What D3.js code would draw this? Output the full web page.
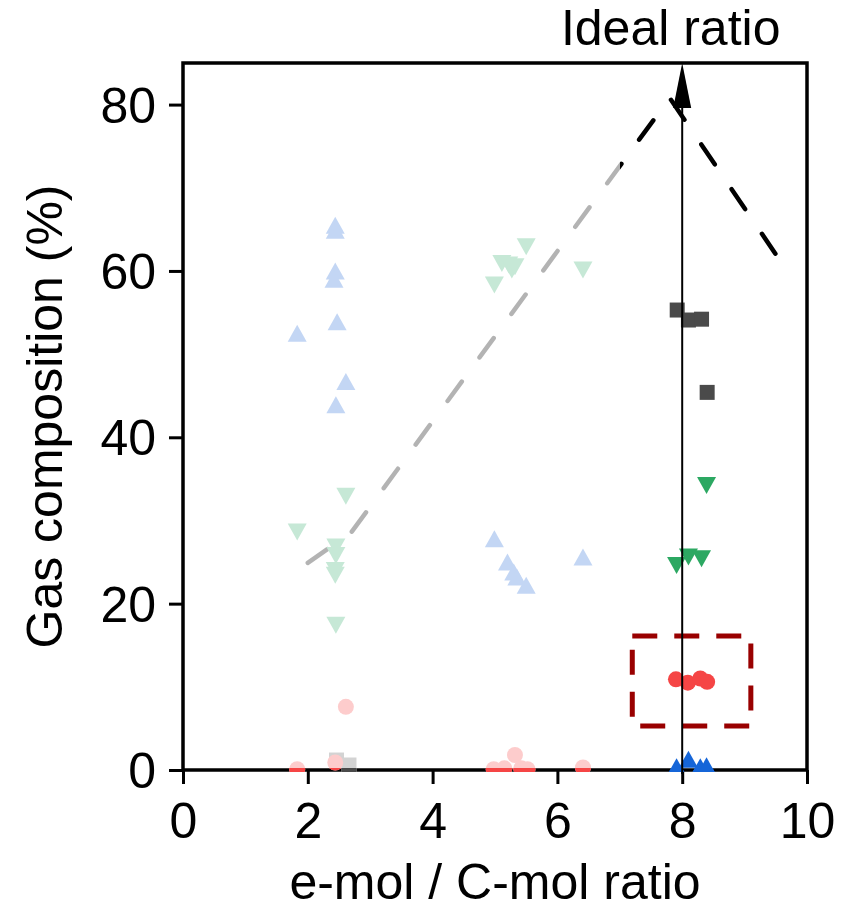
<!DOCTYPE html>
<html>
<head>
<meta charset="utf-8">
<script src="https://cdn.jsdelivr.net/npm/d3@7/dist/d3.min.js"></script>
<style>
  html, body { margin: 0; padding: 0; background: #fff; }
  svg text { font-family: "Liberation Sans", Arial, sans-serif; fill: #000; }
</style>
</head>
<body>
<svg id="chart" width="843" height="910"></svg>
<script>
// ticks
const xTicks = [0, 2, 4, 6, 8, 10];
const yTicks = [0, 20, 40, 60, 80];

// literature points (pale markers), [ratio, %]
const upLit = [[1.83, 52.5], [2.44, 65.5], [2.44, 64.9], [2.44, 60.0], [2.42, 59.0], [2.47, 53.9],
  [2.61, 46.7], [2.45, 43.9], [4.99, 27.8], [5.20, 25.0], [5.30, 23.8], [5.35, 23.2], [5.50, 22.2], [6.41, 25.6]];
const downLit = [[1.83, 28.6], [2.61, 32.9], [2.45, 26.8], [2.45, 25.8], [2.44, 24.0], [2.44, 23.4], [2.45, 17.4],
  [4.99, 58.3], [5.11, 60.9], [5.22, 60.7], [5.27, 60.1], [5.32, 60.5], [5.50, 62.9], [6.41, 60.1]];
const squareLit = [[2.46, 1.2], [2.66, 0.6]];
const circleLit = [[1.83, 0.1], [2.44, 0.9], [2.61, 7.6], [4.98, 0.1], [5.15, 0.2], [5.32, 1.8],
  [5.42, 0.2], [5.52, 0.1], [6.41, 0.3]];

// this work, around the ideal ratio
const upNew = [[7.91, 0.4], [8.10, 1.3], [8.29, 0.4], [8.39, 0.5]];
const downNew = [[7.91, 24.6], [8.10, 25.6], [8.31, 25.4], [8.39, 34.2]];
const squareNew = [[7.92, 55.3], [8.10, 54.1], [8.31, 54.2], [8.40, 45.4]];
const circleNew = [[7.90, 10.9], [8.09, 10.5], [8.29, 11.0], [8.40, 10.6]];

// guide line (grey part then black part) and annotations
const trendLine = [[2.0, 24.9], [2.7, 28.6], [7.8, 80.8], [9.5, 62.0]];
const trendBreak = 7.0;
const idealRatio = 8;
const boxX = [7.2, 9.1];
const boxY = [5.3, 16.1];

const margin = { top: 63, right: 36, bottom: 140, left: 183 };
const W = 843 - margin.left - margin.right;
const H = 910 - margin.top - margin.bottom;

const x = d3.scaleLinear().domain([0, 10]).range([0, W]);
const y = d3.scaleLinear().domain([0, 85]).range([H, 0]);

const svg = d3.select('#chart');
const defs = svg.append('defs');
defs.append('clipPath').attr('id', 'plotClip')
  .append('rect').attr('x', -20).attr('y', -20).attr('width', W + 40).attr('height', H + 22);
defs.append('clipPath').attr('id', 'spineClip')
  .append('rect').attr('x', 0).attr('y', H - 2).attr('width', W).attr('height', 4);

const g = svg.append('g').attr('transform', `translate(${margin.left},${margin.top})`);

// axes
const fs = 50;
const xAxis = g.append('g').attr('transform', `translate(0,${H})`)
  .call(d3.axisBottom(x).tickValues(xTicks).tickSize(14).tickPadding(18).tickFormat(d3.format('d')));
const yAxis = g.append('g')
  .call(d3.axisLeft(y).tickValues(yTicks).tickSize(14).tickPadding(13).tickFormat(d3.format('d')));
[xAxis, yAxis].forEach(a => {
  a.select('.domain').remove();
  a.selectAll('line').attr('stroke', '#000').attr('stroke-width', 3);
  a.selectAll('text').attr('font-size', fs).attr('font-family', '"Liberation Sans", Arial, sans-serif').attr('fill', '#000');
});
yAxis.selectAll('text').attr('dy', '0.35em');

// frame
g.append('rect').attr('width', W).attr('height', H)
  .attr('fill', 'none').attr('stroke', '#000').attr('stroke-width', 3.5);

// guide line with colour change at trendBreak
const grad = defs.append('linearGradient').attr('id', 'trendGrad')
  .attr('gradientUnits', 'userSpaceOnUse')
  .attr('x1', 0).attr('x2', W).attr('y1', 0).attr('y2', 0);
const f = trendBreak / 10;
grad.append('stop').attr('offset', f).attr('stop-color', '#b3b3b3');
grad.append('stop').attr('offset', f).attr('stop-color', '#000');

g.append('path').datum(trendLine)
  .attr('d', d3.line().x(d => x(d[0])).y(d => y(d[1])))
  .attr('fill', 'none').attr('stroke', 'url(#trendGrad)').attr('stroke-width', 4.5)
  .attr('stroke-linecap', 'round').attr('stroke-dasharray', '24,30');

// marker shapes
const tw = 19, th = 17, sq = 15, r = 8;
const shapes = {
  up: `M0,${-th / 2}L${tw / 2},${th / 2}L${-tw / 2},${th / 2}Z`,
  down: `M0,${th / 2}L${tw / 2},${-th / 2}L${-tw / 2},${-th / 2}Z`,
  square: `M${-sq / 2},${-sq / 2}h${sq}v${sq}h${-sq}Z`,
  circle: `M${-r},0a${r},${r} 0 1,0 ${2 * r},0a${r},${r} 0 1,0 ${-2 * r},0Z`
};

const series = [
  { data: upLit, shape: 'up', fill: '#c3d6f4', full: '#1565d8' },
  { data: downLit, shape: 'down', fill: '#c6e8d6', full: '#2ca862' },
  { data: squareLit, shape: 'square', fill: '#d3d3d3', full: '#4a4a4a' },
  { data: circleLit, shape: 'circle', fill: '#fdcccc', full: '#f54545' },
  { data: upNew, shape: 'up', fill: '#1565d8', full: '#1565d8' },
  { data: downNew, shape: 'down', fill: '#2ca862', full: '#2ca862' },
  { data: squareNew, shape: 'square', fill: '#4a4a4a', full: '#4a4a4a' },
  { data: circleNew, shape: 'circle', fill: '#f54545', full: '#f54545' }
];

const pts = g.append('g').attr('clip-path', 'url(#plotClip)');
const onSpine = g.append('g').attr('clip-path', 'url(#spineClip)');
series.forEach(s => {
  pts.selectAll(null).data(s.data).enter().append('path')
    .attr('d', shapes[s.shape])
    .attr('transform', d => `translate(${x(d[0])},${y(d[1])})`)
    .attr('fill', s.fill);
  onSpine.selectAll(null).data(s.data).enter().append('path')
    .attr('d', shapes[s.shape])
    .attr('transform', d => `translate(${x(d[0])},${y(d[1])})`)
    .attr('fill', s.full);
});

// highlight box
g.append('rect')
  .attr('x', x(boxX[0])).attr('y', y(boxY[1]))
  .attr('width', x(boxX[1]) - x(boxX[0])).attr('height', y(boxY[0]) - y(boxY[1]))
  .attr('fill', 'none').attr('stroke', '#990000').attr('stroke-width', 5)
  .attr('stroke-dasharray', '25,17');

// ideal ratio arrow
const ax = x(idealRatio);
g.append('line').attr('x1', ax).attr('x2', ax).attr('y1', H + 4).attr('y2', 40)
  .attr('stroke', '#000').attr('stroke-width', 2);
g.append('path').attr('d', `M${ax},0L${ax + 9},45L${ax - 9},45Z`).attr('fill', '#000');
g.append('text').attr('x', ax - 11.5).attr('y', -18).attr('text-anchor', 'middle')
  .attr('font-size', fs).text('Ideal ratio');

// axis titles
g.append('text').attr('x', W / 2).attr('y', H + 129).attr('text-anchor', 'middle')
  .attr('font-size', fs).text('e-mol / C-mol ratio');
g.append('text').attr('transform', `translate(${-121},${H / 2}) rotate(-90)`)
  .attr('text-anchor', 'middle').attr('font-size', fs).text('Gas composition (%)');
</script>
</body>
</html>
